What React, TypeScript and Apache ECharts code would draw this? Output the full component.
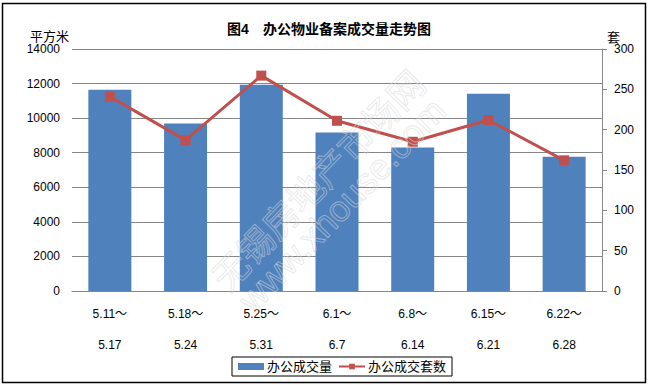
import React, { useEffect, useRef } from "react";
import * as echarts from "echarts";

const startLabels = ["5.11～", "5.18～", "5.25～", "6.1～", "6.8～", "6.15～", "6.22～"];
const endLabels = ["5.17", "5.24", "5.31", "6.7", "6.14", "6.21", "6.28"];
const areaValues = [11640, 9690, 11930, 9165, 8296, 11410, 7760];
const unitValues = [241, 187, 267, 211, 185, 212, 162];
const leftTicks = { min: 0, max: 14000, interval: 2000 };
const rightTicks = { min: 0, max: 300, interval: 50 };

const FONT = "'Liberation Sans', 'Noto Sans CJK SC', sans-serif";

export default function App() {
  const ref = useRef<HTMLDivElement>(null);
  useEffect(() => {
    document.body.style.margin = "0";
    const chart = echarts.init(ref.current!, null, { renderer: "svg" });
    const categories = startLabels.map((s, i) => s + "\n" + endLabels[i]);
    chart.setOption({
      animation: false,
      backgroundColor: "#fff",
      textStyle: { fontFamily: FONT },
      title: {
        text: "图4　办公物业备案成交量走势图",
        left: 324,
        textAlign: "center",
        top: 17,
        textStyle: { fontSize: 14, fontWeight: "bold", color: "#000", fontFamily: FONT },
      },
      grid: { left: 72, right: 48, top: 49, bottom: 94, containLabel: false },
      legend: {
        left: 232,
        top: 357,
        width: 220,
        height: 19,
        padding: [3, 6],
        borderColor: "#000",
        borderWidth: 1,
        itemWidth: 26,
        itemHeight: 7,
        itemGap: 6,
        textStyle: { fontSize: 13, color: "#000", fontFamily: FONT, padding: [0, 0, 0, -2] },
        data: [
          { name: "办公成交量", icon: "rect" },
          { name: "办公成交套数" },
        ],
      },
      xAxis: {
        type: "category",
        data: categories,
        axisLine: { show: true, lineStyle: { color: "#868686", width: 1 } },
        axisTick: { show: false },
        axisLabel: {
          color: "#000",
          fontSize: 12,
          lineHeight: 31,
          margin: 7,
          interval: 0,
          fontFamily: FONT,
        },
      },
      yAxis: [
        {
          type: "value",
          ...leftTicks,
          axisLine: { show: false },
          axisTick: { show: false },
          axisLabel: {
            color: "#000",
            fontSize: 12,
            margin: 12,
            fontFamily: FONT,
            formatter: (v: number) => String(v),
          },
          splitLine: { show: true, lineStyle: { color: "#868686", width: 1 } },
        },
        {
          type: "value",
          ...rightTicks,
          position: "right",
          axisLine: { show: true, lineStyle: { color: "#868686", width: 1 } },
          axisTick: { show: true, length: 5, lineStyle: { color: "#868686" } },
          axisLabel: {
            color: "#000",
            fontSize: 12,
            margin: 12,
            fontFamily: FONT,
            formatter: (v: number) => String(v),
          },
          splitLine: { show: false },
        },
      ],
      series: [
        {
          name: "办公成交量",
          type: "bar",
          data: areaValues,
          barWidth: 43,
          itemStyle: { color: "#4F81BD" },
          yAxisIndex: 0,
        },
        {
          name: "办公成交套数",
          type: "line",
          data: unitValues,
          yAxisIndex: 1,
          symbol: "rect",
          symbolSize: 10,
          lineStyle: { color: "#C0504D", width: 3 },
          itemStyle: { color: "#C0504D" },
          z: 5,
        },
      ],
      graphic: [
        {
          type: "rect",
          shape: { x: 2.5, y: 3.5, width: 643, height: 379 },
          style: { fill: "none", stroke: "#000", lineWidth: 1.5 },
          silent: true,
          z: 0,
        },
        {
          type: "text",
          x: 30,
          y: 36,
          style: { text: "平方米", font: `13px ${FONT}`, fill: "#000", textVerticalAlign: "middle" },
        },
        {
          type: "text",
          x: 607,
          y: 37,
          style: { text: "套", font: `13px ${FONT}`, fill: "#000", textVerticalAlign: "middle" },
        },
        {
          type: "text",
          x: 319,
          y: 181,
          rotation: (46 * Math.PI) / 180,
          z: 100,
          silent: true,
          style: {
            text: "无锡房地产市场网",
            font: `36px ${FONT}`,
            fill: "rgba(255,255,255,0)",
            stroke: "rgba(215,215,215,0.55)",
            lineWidth: 1,
            align: "center",
            verticalAlign: "middle",
          },
        },
        {
          type: "text",
          x: 342,
          y: 205,
          rotation: (46 * Math.PI) / 180,
          z: 100,
          silent: true,
          style: {
            text: "www.xhouse.com",
            font: `36px ${FONT}`,
            fill: "rgba(255,255,255,0)",
            stroke: "rgba(215,215,215,0.55)",
            lineWidth: 1,
            align: "center",
            verticalAlign: "middle",
          },
        },
      ],
    });
    return () => chart.dispose();
  }, []);
  return <div ref={ref} style={{ width: 650, height: 385 }} />;
}
